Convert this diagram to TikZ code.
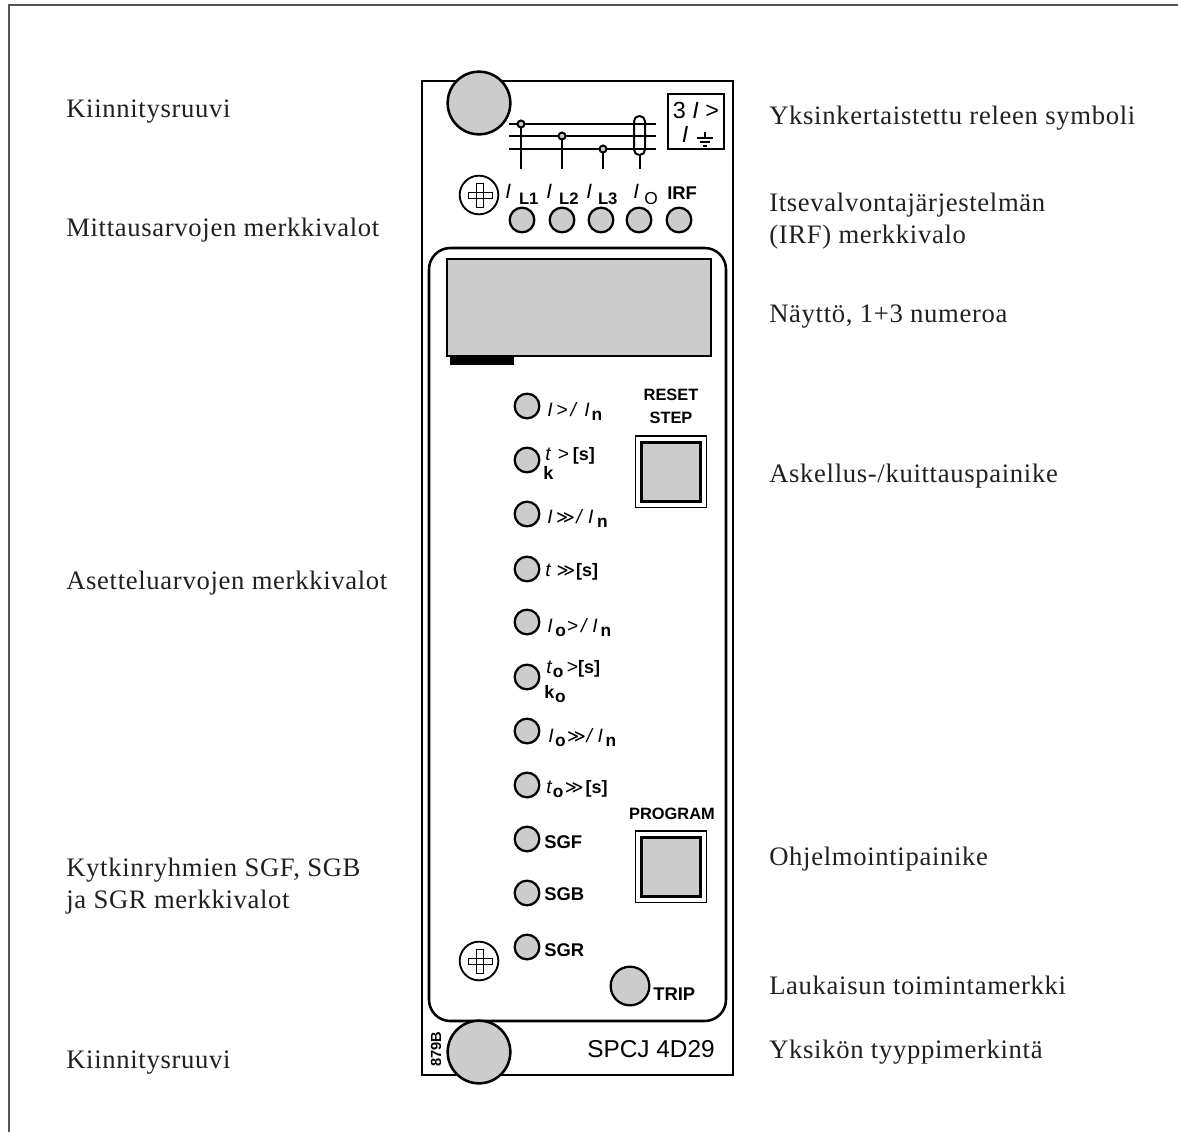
\documentclass[tikz,border=0pt]{standalone}
\usepackage{fontspec}
\setmainfont[LetterSpace=2.5]{Liberation Serif}
\setsansfont{Liberation Sans}
\newfontfamily\symfont{DejaVu Sans}
\usepackage{xcolor}
\definecolor{panelgray}{RGB}{204,204,204}
\definecolor{framegray}{RGB}{85,85,85}
\definecolor{captionblack}{RGB}{35,31,32}
\newcommand{\lampsub}[1]{\raisebox{-3pt}{\fontsize{13}{13}\selectfont\textbf{#1}}}
\newcommand{\topsub}[1]{\raisebox{-5.2pt}{\fontsize{12.5}{13}\selectfont\textbf{#1}}}
\newcommand{\sbrack}{{\fontsize{13.5}{14}\selectfont\textbf{[s]}}}
\newcommand{\boldk}{{\fontsize{13.5}{14}\selectfont\textbf{k}}}
\newcommand{\dblgt}{{\symfont\fontsize{13.5}{10}\selectfont ≫}}
\tikzset{
	caption/.style={anchor=base west, align=left, text=captionblack, inner sep=0pt,
		font=\fontsize{20}{24}\selectfont},
	lamp/.style={circle, draw, line width=1.7pt, fill=panelgray, minimum size=18.5pt, inner sep=0pt},
	bigscrew/.style={circle, draw, line width=1.9pt, fill=panelgray, minimum size=47pt, inner sep=0pt},
	smallscrew/.style={circle, draw, line width=1.4pt, minimum size=29pt, inner sep=0pt},
	lamplabel/.style={anchor=base west, inner sep=0pt, font=\sffamily\fontsize{14.5}{15}\selectfont},
	toplabel/.style={anchor=base west, inner sep=0pt, font=\sffamily\fontsize{15.5}{15}\selectfont},
	boldlabel/.style={anchor=base west, inner sep=0pt, font=\sffamily\bfseries\fontsize{13.8}{15}\selectfont},
	headlabel/.style={anchor=base, inner sep=0pt, font=\sffamily\bfseries\fontsize{12.3}{13}\selectfont},
	pushouter/.style={draw, line width=1pt, minimum size=53.5pt, inner sep=0pt},
	pushinner/.style={draw, line width=2pt, fill=panelgray, minimum size=44.5pt, inner sep=0pt}
}
\begin{document}
\begin{tikzpicture}[x=0.75pt, y=-0.75pt]
	\useasboundingbox (0,0) rectangle (1178,1132);
	
	% ---- frame ----
	\draw[framegray, line width=0.9pt] (9,1132) -- (9,5) -- (1178,5);
	
	% ---- left captions ----
	\node[caption] (capscrewtop) at (66,117) {Kiinnitysruuvi};
	\node[caption] (capmeasure) at (66,236) {Mittausarvojen merkkivalot};
	\node[caption] (capsetting) at (66,589) {Asetteluarvojen merkkivalot};
	\node[caption] (capgroups) at (66,908) {Kytkinryhmien SGF, SGB\\ja SGR merkkivalot};
	\node[caption] (capscrewbot) at (66,1068) {Kiinnitysruuvi};
	
	% ---- right captions ----
	\node[caption] (capsymbol) at (769,124) {Yksinkertaistettu releen symboli};
	\node[caption] (capirf) at (769,243) {Itsevalvontajärjestelmän\\(IRF) merkkivalo};
	\node[caption] (capdisplay) at (769,322) {Näyttö, 1+3 numeroa};
	\node[caption] (capstep) at (769,482) {Askellus-/kuittauspainike};
	\node[caption] (capprog) at (769,865) {Ohjelmointipainike};
	\node[caption] (captrip) at (769,994) {Laukaisun toimintamerkki};
	\node[caption] (captype) at (769,1058) {Yksikön tyyppimerkintä};
	
	% ---- panel ----
	\draw[line width=1.9pt] (422,81) rectangle (733,1075);
	\draw[line width=1.9pt, rounded corners=16pt] (429,248) rectangle (726,1021);
	\node[bigscrew] (screwtop) at (479,103) {};
	\node[bigscrew] (screwbot) at (479,1052) {};
	
	% ---- symbol ----
	\draw[line width=1.9pt] (509,124) -- (656,124) (509,136) -- (656,136) (509,149) -- (656,149);
	\draw[line width=1.9pt] (521,124) -- (521,169) (562,136) -- (562,169) (603,149) -- (603,169) (640,155) -- (640,169);
	\draw[line width=1.5pt, fill=panelgray] (521,124) circle (3.5) (562,136) circle (3.5) (603,149) circle (3.5);
	\draw[line width=1.5pt, rounded corners=4pt] (634,116) rectangle (645,155);
	\draw[line width=1.8pt] (668,94) rectangle (724,149);
	\node[inner sep=0pt, anchor=base, font=\sffamily\fontsize{17.5}{18}\selectfont] (sym3) at (696,118) {3 \textit{I} >};
	\node[inner sep=0pt, anchor=base, font=\sffamily\fontsize{17.5}{18}\selectfont] (symi) at (685,142) {\textit{I}};
	\draw[line width=0.8pt] (705,132) -- (705,138) (697,138) -- (713,138) (700,142) -- (710,142) (703,146) -- (707,146);
	
	% ---- measuring lamps ----
	\node[smallscrew] (screwup) at (479,195) {};
	\draw[line width=0.7pt] (468,192) rectangle (492,198) (476,183) rectangle (483,207);
	\node[lamp] (lampa) at (522,220) {};
	\node[lamp] (lampb) at (562,220) {};
	\node[lamp] (lampc) at (601,220) {};
	\node[lamp] (lampd) at (639,220) {};
	\node[lamp] (lampe) at (679,220) {};
	\node[toplabel] (laba) at (505,198) {\textit{I}\kern6pt\topsub{L1}};
	\node[toplabel] (labb) at (546,198) {\textit{I}\kern5.3pt\topsub{L2}};
	\node[toplabel] (labc) at (586,198) {\textit{I}\kern4.5pt\topsub{L3}};
	\node[toplabel] (labd) at (633,198) {\textit{I}\kern4pt\raisebox{-5.2pt}{\fontsize{13}{13}\selectfont O}};
	\node[boldlabel] (labe) at (667,199) {IRF};
	
	% ---- display ----
	\node[draw, line width=1.9pt, fill=panelgray, minimum width=198pt, minimum height=72.5pt, inner sep=0pt] (display) at (579,307.5) {};
	\fill (450,357) rectangle (514,365);
	
	% ---- setting lamps ----
	\node[lamp] (lampf) at (527,406) {};
	\node[lamp] (lampg) at (527,460) {};
	\node[lamp] (lamph) at (527,514) {};
	\node[lamp] (lampi) at (527,569) {};
	\node[lamp] (lampj) at (527,622) {};
	\node[lamp] (lampk) at (527,677) {};
	\node[lamp] (lampl) at (527,731) {};
	\node[lamp] (lampm) at (527,785) {};
	\node[lamp] (lampn) at (527,839) {};
	\node[lamp] (lampo) at (527,893) {};
	\node[lamp] (lampp) at (527,947) {};
	\node[lamplabel] (labf) at (547,416) {\textit{I}\kern3pt>\kern2pt\textit{/}\kern5pt\textit{I}\kern1.5pt\lampsub{n}};
	\node[lamplabel] (labg) at (545,460) {\textit{t}\kern5pt>\kern2.7pt\sbrack};
	\node[lamplabel] (labgk) at (543,479) {\boldk};
	\node[lamplabel] (labh) at (547,523) {\textit{I}\kern2.7pt\dblgt\kern1pt\textit{/}\kern3.5pt\textit{I}\kern2.7pt\lampsub{n}};
	\node[lamplabel] (labi) at (545,576) {\textit{t}\kern4pt\dblgt\kern.5pt\sbrack};
	\node[lamplabel] (labj) at (547,632) {\textit{I}\kern2pt\lampsub{o}\kern1pt>\kern2pt\textit{/}\kern3.2pt\textit{I}\kern2pt\lampsub{n}};
	\node[lamplabel] (labk) at (546,673) {\textit{t}\kern.5pt\lampsub{o}\kern2.5pt>\sbrack};
	\node[lamplabel] (labkk) at (544,698) {\boldk\kern.7pt\lampsub{o}};
	\node[lamplabel] (labl) at (548,742) {\textit{I}\kern1.2pt\lampsub{o}\kern1pt\dblgt\kern.5pt\textit{/}\kern3pt\textit{I}\kern2pt\lampsub{n}};
	\node[lamplabel] (labm) at (546,793) {\textit{t}\kern.5pt\lampsub{o}\kern1pt\dblgt\kern1.5pt\sbrack};
	\node[boldlabel] (labn) at (544,848) {SGF};
	\node[boldlabel] (labo) at (544,900) {SGB};
	\node[boldlabel] (labp) at (544,956) {SGR};
	
	% ---- buttons ----
	\node[headlabel] (labreset) at (671,400) {RESET};
	\node[headlabel] (labstep) at (671,423) {STEP};
	\node[pushouter] (resetouter) at (671,471.5) {};
	\node[pushinner] (resetbtn) at (671,472) {};
	\node[headlabel] (labprog) at (672,819) {PROGRAM};
	\node[pushouter] (progouter) at (671,866.5) {};
	\node[pushinner] (progbtn) at (671,867) {};
	
	% ---- bottom ----
	\node[smallscrew] (screwlow) at (479,961) {};
	\draw[line width=0.7pt] (468,958) rectangle (492,964) (476,949) rectangle (483,973);
	\node[lamp, minimum size=29pt] (lamptrip) at (630,986) {};
	\node[boldlabel] (labtrip) at (653,1000) {TRIP};
	\node[inner sep=0pt, anchor=base west, font=\sffamily\fontsize{18.3}{19}\selectfont] (labtype) at (587,1057) {SPCJ 4D29};
	\node[inner sep=0pt, rotate=90, font=\sffamily\bfseries\fontsize{11}{12}\selectfont] (labcode) at (436,1049) {879B};
\end{tikzpicture}
\end{document}
